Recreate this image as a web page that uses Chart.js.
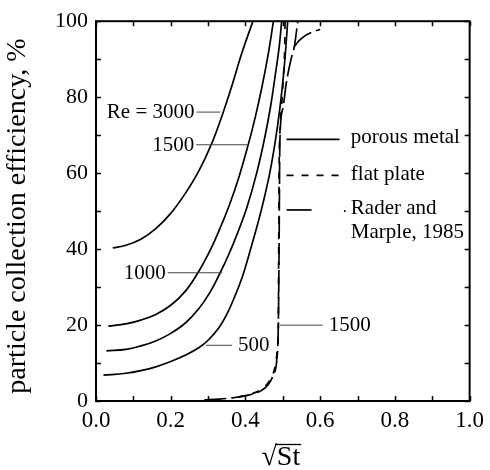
<!DOCTYPE html>
<html>
<head>
<meta charset="utf-8">
<script src="https://cdn.jsdelivr.net/npm/chart.js@4.4.1/dist/chart.umd.min.js"></script>
<style>
  html, body { margin: 0; padding: 0; background: #fff; }
  #wrap { width: 490px; height: 470px; }
</style>
</head>
<body>
<div id="wrap"><canvas id="c" width="490" height="470"></canvas></div>
<script>
// Particle collection efficiency (%) versus sqrt(St)

// porous metal impaction plate, four jet Reynolds numbers
const re3000X = [0.045, 0.08, 0.12, 0.16, 0.20, 0.24, 0.276, 0.311, 0.338, 0.364, 0.391, 0.42];
const re3000Y = [40.3, 41.0, 42.6, 45.4, 49.4, 54.8, 60.7, 68.1, 75.3, 83.1, 91.8, 100];

const re1500X = [0.033, 0.08, 0.12, 0.16, 0.20, 0.24, 0.276, 0.31, 0.335, 0.357, 0.382, 0.408, 0.426, 0.444, 0.46, 0.475];
const re1500Y = [19.7, 20.3, 21.3, 22.8, 25.2, 29.0, 34.3, 40.6, 46.2, 51.6, 58.8, 67.7, 74.6, 82.6, 90.8, 100];

const re1000X = [0.028, 0.08, 0.12, 0.16, 0.20, 0.24, 0.276, 0.305, 0.333, 0.355, 0.378, 0.404, 0.43, 0.452, 0.468, 0.48, 0.49, 0.497];
const re1000Y = [13.2, 13.6, 14.5, 15.8, 17.8, 20.6, 24.4, 28.6, 33.9, 38.5, 44.0, 51.0, 60.0, 69.5, 78.0, 86.0, 93.0, 100];

const re500X = [0.02, 0.08, 0.12, 0.16, 0.20, 0.24, 0.276, 0.30, 0.329, 0.35, 0.373, 0.392, 0.408, 0.431, 0.448, 0.465, 0.48, 0.492, 0.502, 0.508, 0.513];
const re500Y = [6.8, 7.3, 8.0, 9.0, 10.4, 12.1, 14.1, 16.0, 19.3, 22.8, 27.9, 32.8, 38.0, 46.0, 52.5, 60.0, 68.5, 77.0, 86.0, 93.0, 100];

// flat plate, Re = 1500
const flatX = [0.38, 0.42, 0.45, 0.466, 0.478, 0.485, 0.488, 0.489, 0.49, 0.492, 0.497, 0.502, 0.505, 0.506];
const flatY = [1.0, 2.0, 3.6, 5.6, 8.5, 13.0, 20.0, 40.0, 60.0, 70.0, 78.0, 86.0, 93.0, 100];

// Rader and Marple, 1985
const raderX = [0.29, 0.33, 0.37, 0.41, 0.44, 0.46, 0.475, 0.484, 0.488, 0.49, 0.491, 0.492, 0.50, 0.509, 0.522, 0.531, 0.54];
const raderY = [0.3, 0.5, 0.9, 1.6, 2.6, 4.2, 7.0, 11.0, 20.0, 40.0, 55.0, 68.0, 77.0, 83.5, 90.0, 93.4, 100];
const raderTailX = [0.531, 0.545, 0.56, 0.58, 0.60];
const raderTailY = [93.4, 95.0, 96.2, 97.2, 97.8];

// axis ticks
const xTickValues = [0.0, 0.2, 0.4, 0.6, 0.8, 1.0];
const yTickValues = [0, 20, 40, 60, 80, 100];
const xMinorValues = [0.1, 0.3, 0.5, 0.7, 0.9];
const yMinorValues = [10, 30, 50, 70, 90];

const SERIF = '"Liberation Serif", "Times New Roman", "DejaVu Serif", serif';

const pts = (xs, ys) => xs.map((x, i) => ({ x: x, y: ys[i] }));

function curve(label, xs, ys, dash, smooth) {
  const ds = {
    label: label,
    data: pts(xs, ys),
    showLine: true,
    borderColor: '#000',
    backgroundColor: '#000',
    borderWidth: 1.7,
    borderDash: dash || [],
    pointRadius: 0,
    pointHoverRadius: 0,
    fill: false
  };
  if (smooth) { ds.tension = 0.4; } else { ds.cubicInterpolationMode = 'monotone'; }
  return ds;
}

// text labels attached to curves (leader from x0 to x1 at height y)
const curveNotes = [
  { text: 'Re = 3000', x0: 0.269, x1: 0.333, y: 76.2, side: 'left' },
  { text: '1500', x0: 0.268, x1: 0.408, y: 67.6, side: 'left' },
  { text: '1000', x0: 0.192, x1: 0.338, y: 33.9, side: 'left' },
  { text: '500', x0: 0.364, x1: 0.294, y: 14.8, side: 'right' },
  { text: '1500', x0: 0.607, x1: 0.492, y: 20.1, side: 'right' }
];

const decor = {
  id: 'decor',
  afterDatasetsDraw(chart) {
    const { ctx, chartArea: a, scales: { x, y } } = chart;
    ctx.save();

    // frame
    ctx.strokeStyle = '#000';
    ctx.lineWidth = 2;
    ctx.strokeRect(a.left, a.top, a.right - a.left, a.bottom - a.top);

    // inward ticks on all four sides
    ctx.lineWidth = 1.5;
    const tl = 5;
    ctx.beginPath();
    xTickValues.concat(xMinorValues).forEach(v => {
      const px = Math.round(x.getPixelForValue(v)) + 0.5;
      ctx.moveTo(px, a.bottom); ctx.lineTo(px, a.bottom - tl);
      ctx.moveTo(px, a.top); ctx.lineTo(px, a.top + tl);
    });
    yTickValues.concat(yMinorValues).forEach(v => {
      const py = Math.round(y.getPixelForValue(v)) + 0.5;
      ctx.moveTo(a.left, py); ctx.lineTo(a.left + tl, py);
      ctx.moveTo(a.right, py); ctx.lineTo(a.right - tl, py);
    });
    ctx.stroke();

    // curve labels with leader lines
    ctx.font = '21px ' + SERIF;
    ctx.fillStyle = '#000';
    ctx.textBaseline = 'middle';
    curveNotes.forEach(n => {
      const p0 = x.getPixelForValue(n.x0), p1 = x.getPixelForValue(n.x1);
      const py = y.getPixelForValue(n.y);
      ctx.strokeStyle = '#444';
      ctx.lineWidth = 1;
      ctx.beginPath();
      ctx.moveTo(p0, py + 0.5); ctx.lineTo(p1, py + 0.5);
      ctx.stroke();
      if (n.side === 'left') {
        ctx.textAlign = 'right';
        ctx.fillText(n.text, p0 - 2, py + 1);
      } else {
        ctx.textAlign = 'left';
        ctx.fillText(n.text, p0 + 6, py + 1);
      }
    });

    // key
    ctx.strokeStyle = '#000';
    ctx.lineWidth = 1.7;
    const kx0 = x.getPixelForValue(0.51), kx1 = x.getPixelForValue(0.652);
    const ktx = x.getPixelForValue(0.682);
    const k1 = y.getPixelForValue(68.9), k2 = y.getPixelForValue(59.4), k3 = y.getPixelForValue(50.3);
    ctx.beginPath(); ctx.moveTo(kx0, k1); ctx.lineTo(kx1, k1); ctx.stroke();
    ctx.setLineDash([7, 8]);
    ctx.beginPath(); ctx.moveTo(kx0, k2); ctx.lineTo(kx1, k2); ctx.stroke();
    ctx.setLineDash([]);
    ctx.beginPath(); ctx.moveTo(kx0, k3); ctx.lineTo(kx0 + 25, k3); ctx.stroke();
    ctx.beginPath(); ctx.arc(ktx - 6, k3 + 1, 1, 0, Math.PI * 2); ctx.fill();

    ctx.font = '21px ' + SERIF;
    ctx.textAlign = 'left';
    ctx.textBaseline = 'middle';
    ctx.fillText('porous metal', ktx, k1 - 2);
    ctx.fillText('flat plate', ktx, k2 - 1);
    ctx.fillText('Rader and', ktx, k3 - 1);
    ctx.fillText('Marple, 1985', ktx, k3 + 23);

    // axis titles
    ctx.font = '28px ' + SERIF;
    ctx.textBaseline = 'alphabetic';
    const cx = (a.left + a.right) / 2 - 2;
    const rad = '\u221A', st = 'St';
    const wr = ctx.measureText(rad).width, ws = ctx.measureText(st).width;
    const tx = cx - (wr + ws) / 2;
    const base = 465;
    ctx.textAlign = 'left';
    ctx.fillText(rad, tx, base);
    ctx.fillText(st, tx + wr, base);
    ctx.lineWidth = 1.3;
    ctx.beginPath();
    ctx.moveTo(tx + wr - 1, base - 20.5);
    ctx.lineTo(tx + wr + ws + 1, base - 20.5);
    ctx.stroke();

    ctx.save();
    ctx.translate(18, 216);
    ctx.rotate(-Math.PI / 2);
    ctx.textAlign = 'center';
    ctx.textBaseline = 'middle';
    ctx.fillText('particle collection efficiency, %', 0, 0);
    ctx.restore();

    ctx.restore();
  }
};

new Chart(document.getElementById('c'), {
  type: 'scatter',
  data: {
    datasets: [
      curve('porous metal, Re = 3000', re3000X, re3000Y, null, true),
      curve('porous metal, Re = 1500', re1500X, re1500Y, null, true),
      curve('porous metal, Re = 1000', re1000X, re1000Y, null, true),
      curve('porous metal, Re = 500', re500X, re500Y, null, true),
      curve('flat plate, Re = 1500', flatX, flatY, [7, 8]),
      curve('Rader and Marple, 1985', raderX, raderY, [22, 5]),
      curve('Rader and Marple, 1985 (upper)', raderTailX, raderTailY, [22, 5])
    ]
  },
  options: {
    responsive: false,
    devicePixelRatio: 1,
    animation: false,
    layout: { padding: { left: 0, right: 17, top: 15, bottom: 0 } },
    plugins: { legend: { display: false }, tooltip: { enabled: false } },
    scales: {
      x: {
        type: 'linear',
        min: 0, max: 1,
        afterFit: s => { s.height = 69; },
        afterBuildTicks: s => { s.ticks = xTickValues.map(v => ({ value: v })); },
        grid: { display: false, drawTicks: false },
        border: { display: false },
        ticks: {
          padding: 6,
          color: '#000',
          font: { family: SERIF, size: 23 },
          callback: v => Number(v).toFixed(1)
        }
      },
      y: {
        type: 'linear',
        min: 0, max: 100,
        afterFit: s => { s.width = 96; },
        afterBuildTicks: s => { s.ticks = yTickValues.map(v => ({ value: v })); },
        grid: { display: false, drawTicks: false },
        border: { display: false },
        ticks: {
          padding: 8,
          color: '#000',
          font: { family: SERIF, size: 22 },
          callback: v => String(v)
        }
      }
    }
  },
  plugins: [decor]
});
</script>
</body>
</html>
